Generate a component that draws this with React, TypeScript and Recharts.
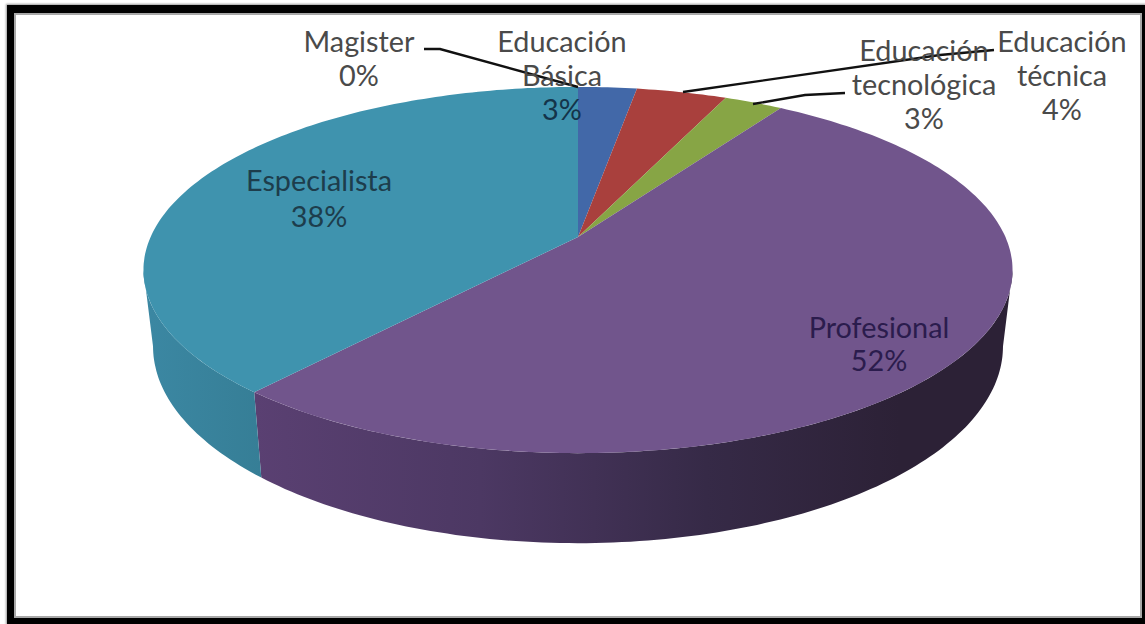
import { PieChart, Pie } from "recharts";

const CATEGORIES = ["Magister", "Educación Básica", "Educación técnica", "Educación tecnológica", "Profesional", "Especialista"];
const VALUES = [0, 2.6, 4.0, 2.6, 52.15, 38.65];
const PERCENT_LABELS = ["0%", "3%", "4%", "3%", "52%", "38%"];

const TOP_COLORS = ["#4f81bd", "#4268a8", "#a9403d", "#87a545", "#71558c", "#3f93ae"];
const WALL_COLORS = ["#3b5f8f", "#3b5f8f", "#7d2f2d", "#65803a", "url(#wallPurple)", "url(#wallTeal)"];

// label layout: wrapped lines, centre x, first baseline, colour
const LABEL_LINES = [
  ["Magister", "0%"],
  ["Educación", "Básica", "3%"],
  ["Educación", "técnica", "4%"],
  ["Educación", "tecnológica", "3%"],
  ["Profesional", "52%"],
  ["Especialista", "38%"],
];
const LABEL_X = [359, 562, 1062, 924, 879, 319];
const LABEL_Y = [52, 52, 52, 61, 338, 191];
const LINE_STEPS = [34, 34, 34, 34, 33, 36];
const LABEL_COLORS = [
  ["#4a4a4a", "#4a4a4a"],
  ["#4a4a4a", "#4a4a4a", "#14344a"],
  ["#4a4a4a", "#4a4a4a", "#4a4a4a"],
  ["#4a4a4a", "#4a4a4a", "#4a4a4a"],
  ["#2b1c4d", "#2b1c4d"],
  ["#1d3d4c", "#1d3d4c"],
];

const LEADERS: Record<number, string> = {
  0: "424,49 440,49 578,87",
  2: "994,50 940,55 683,92",
  3: "845,93 805,95 753,104",
};

// the pie is a tilted disc, a circle seen in perspective
const TILT = 0.1804;
const SQUASH = 0.4145;
const DEPTH = 73.8;
const BASE_SCALE = 0.978;
const WALL_FROM = -10.4;
const WALL_TO = -169.6;

function project(cx: number, cy: number, r: number, deg: number, lower = false) {
  const a = (deg * Math.PI) / 180;
  const u = Math.cos(a);
  const v = Math.sin(a);
  const w = 1 + TILT * v;
  const x = (r * u) / w;
  const y = cy - (r * SQUASH * v) / w;
  if (!lower) return [cx + x, y];
  return [cx + x * BASE_SCALE, y + DEPTH / w];
}

function arc(cx: number, cy: number, r: number, from: number, to: number, lower = false) {
  const steps = Math.max(2, Math.ceil(Math.abs(from - to)));
  const pts = [];
  for (let i = 0; i <= steps; i++) {
    const p = project(cx, cy, r, from + ((to - from) * i) / steps, lower);
    pts.push(`${p[0].toFixed(1)},${p[1].toFixed(1)}`);
  }
  return pts;
}

function DiscSlice(props: any) {
  const { cx, cy, outerRadius, startAngle, endAngle, index } = props;
  if (Math.abs(startAngle - endAngle) < 0.01) return <g />;
  const wallStart = Math.min(startAngle, WALL_FROM);
  const wallEnd = Math.max(endAngle, WALL_TO);
  const hasWall = wallStart > wallEnd;
  const top = arc(cx, cy, outerRadius, startAngle, endAngle);
  return (
    <g>
      {hasWall && (
        <polygon
          points={[
            ...arc(cx, cy, outerRadius, wallStart, wallEnd),
            ...arc(cx, cy, outerRadius, wallEnd, wallStart, true),
          ].join(" ")}
          fill={WALL_COLORS[index]}
        />
      )}
      <polygon points={[`${cx},${cy}`, ...top].join(" ")} fill={TOP_COLORS[index]} />
    </g>
  );
}

function SliceLabel(props: any) {
  const { index } = props;
  const lines = LABEL_LINES[index];
  return (
    <g>
      {LEADERS[index] && <polyline points={LEADERS[index]} fill="none" stroke="#111" strokeWidth={2.4} />}
      <text x={LABEL_X[index]} y={LABEL_Y[index]} textAnchor="middle" fontFamily="Lato" fontSize={28.8}>
        {lines.map((line, i) => (
          <tspan key={line} x={LABEL_X[index]} y={LABEL_Y[index] + i * LINE_STEPS[index]} fill={LABEL_COLORS[index][i]}>
            {line}
          </tspan>
        ))}
      </text>
    </g>
  );
}

const pieData = CATEGORIES.map((name, i) => ({ name, value: VALUES[i], percent: PERCENT_LABELS[i] }));

export default function App() {
  return (
    <div style={{ position: "absolute", left: 0, top: 0, width: 1145, height: 624, background: "#fff", overflow: "hidden" }}>
      <PieChart width={1145} height={624} margin={{ top: 0, right: 0, bottom: 0, left: 0 }}>
        <defs>
          <linearGradient id="wallPurple" gradientUnits="userSpaceOnUse" x1="255" y1="0" x2="900" y2="0">
            <stop offset="0%" stopColor="#5a4072" />
            <stop offset="35%" stopColor="#4c3863" />
            <stop offset="70%" stopColor="#362a47" />
            <stop offset="100%" stopColor="#2c2136" />
          </linearGradient>
          <linearGradient id="wallTeal" gradientUnits="userSpaceOnUse" x1="150" y1="0" x2="262" y2="0">
            <stop offset="0%" stopColor="#3b87a2" />
            <stop offset="100%" stopColor="#367e96" />
          </linearGradient>
        </defs>
        <Pie
          data={pieData}
          dataKey="value"
          nameKey="name"
          cx={578}
          cy={237}
          innerRadius={0}
          outerRadius={427.4}
          startAngle={90}
          endAngle={-270}
          stroke="none"
          isAnimationActive={false}
          shape={DiscSlice}
          label={SliceLabel}
          labelLine={false}
        />
      </PieChart>
      <div
        style={{
          position: "absolute",
          left: 7,
          top: 5,
          width: 1138,
          height: 619,
          boxSizing: "border-box",
          borderStyle: "solid",
          borderColor: "#000",
          borderWidth: "8px 3px 6px 7px",
          boxShadow: "inset 0 0 0 2px #a8a8a8, 0 0 2px 1px #999",
        }}
      />
    </div>
  );
}
